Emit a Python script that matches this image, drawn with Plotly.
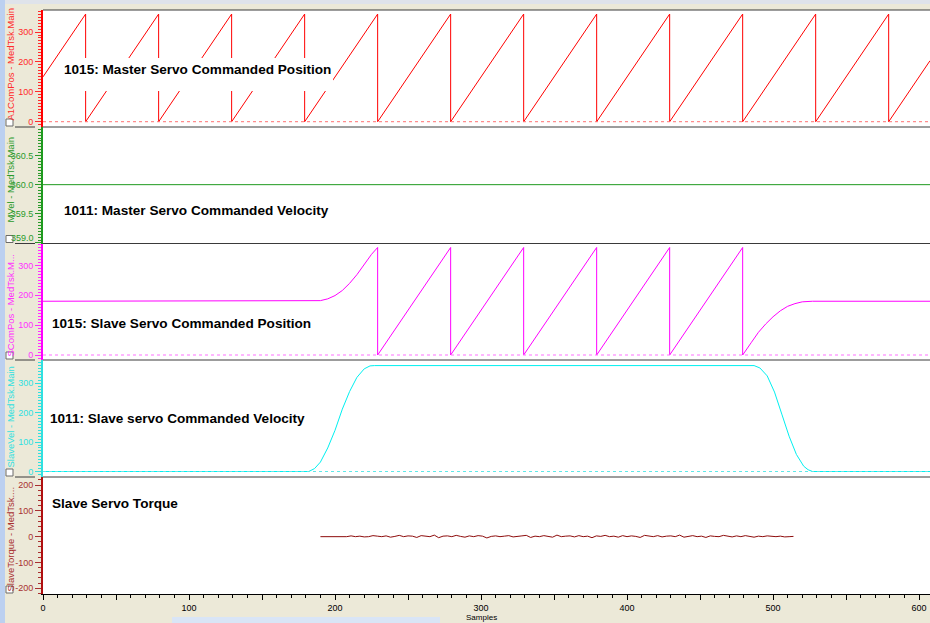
import plotly.graph_objects as go
from plotly.subplots import make_subplots

# ---------------- data ----------------
# Master servo commanded position (sawtooth vertices, samples / degrees)
master_pos_x = [0, 29.2, 29.2, 79.2, 79.2, 129.2, 129.2, 179.2, 179.2, 229.2, 229.2,
                279.2, 279.2, 329.2, 329.2, 379.2, 379.2, 429.2, 429.2, 479.2, 479.2,
                529.2, 529.2, 579.2, 579.2, 607.5]
master_pos_y = [150, 360, 0, 360, 0, 360, 0, 360, 0, 360, 0,
                360, 0, 360, 0, 360, 0, 360, 0, 360, 0,
                360, 0, 360, 0, 204]

# Master servo commanded velocity
master_vel_x = [0, 607.5]
master_vel_y = [360.0, 360.0]

# Slave servo commanded position
slave_pos_x = [0, 184, 190, 195, 200, 205, 210, 215, 220, 225, 229.2, 229.2,
               279.2, 279.2, 329.2, 329.2, 379.2, 379.2, 429.2, 429.2, 479.2, 479.2,
               485, 490, 495, 500, 505, 510, 515, 520, 527, 607.5]
slave_pos_y = [180, 180, 182, 188, 199, 216, 240, 269, 303, 337, 360, 0,
               360, 0, 360, 0, 360, 0, 360, 0, 360, 0,
               41, 76, 104, 128, 148, 163, 172, 178, 180, 180]

# Slave servo commanded velocity
slave_vel_x = [0, 182, 186, 190, 195, 200, 205, 210, 215, 220, 224, 227,
               487, 491, 496, 501, 506, 511, 516, 521, 524, 527, 607.5]
slave_vel_y = [0, 0, 10, 32, 80, 140, 212, 272, 320, 349, 359, 360,
               360, 352, 325, 270, 195, 120, 58, 18, 6, 0, 0]

# Slave servo torque (one reading every 3 samples from sample 190)
torque_start = 190
torque_step = 3
torque_y = [0, 0, 2, 0, 1, 0, 0, 3, 0, 2, -1, 0, 4, 2, 0, 3, -2, 1, 5, 0, 3, 2,
            -3, 4, 1, 0, 6, -4, 2, 3, 0, 5, 1, -2, 3, 0, 4, 2, -5, 1, 3, 0, 2, 4,
            -1, 0, 3, 5, -3, 2, 0, 4, 1, -2, 6, 0, 2, 3, -1, 4, 0, 2, -4, 3, 1, 5,
            0, 2, -2, 4, 0, 3, 1, -3, 5, 2, 0, 4, -1, 2, 3, 0, 6, -2, 1, 4, 0, 2,
            -3, 3, 1, 0, 5, 2, -1, 3, 0, 4, 1, -2, 2, 0, 3, 1, 0, 2, -1, 0, 1]
torque_x = [torque_start + torque_step * i for i in range(len(torque_y))]

panel_titles = ["1015: Master Servo Commanded Position",
                "1011: Master Servo Commanded Velocity",
                "1015: Slave Servo Commanded Position",
                "1011: Slave servo Commanded Velocity",
                "Slave Servo Torque"]
channel_names = ["A1ComPos - MedTsk.Main", "MVel - MedTsk.Main",
                 "SComPos - MedTsk.M...", "SlaveVel - MedTsk.Main",
                 "SlaveTorque - MedTsk...."]
y_ticks = [[0, 100, 200, 300], [359.0, 359.5, 360.0, 360.5], [0, 100, 200, 300],
           [0, 100, 200, 300], [-200, -100, 0, 100, 200]]
x_ticks = list(range(0, 601, 50))

# ---------------- geometry / styling ----------------
W, H = 930, 623
ML, MT, MB = 43, 10, 29
PW = W - ML
PH = H - MT - MB
edges = [10, 127, 243.5, 360, 477, 594]


def fx(px):
    return (px - ML) / PW


def fy(py):
    return (H - MB - py) / PH


FONT = "Liberation Sans"
TICK_FONT = "Liberation Sans"
TICK_SIZE = 9
line_cols = ["#ff0000", "#1f9a1f", "#ff00ff", "#00f0f0", "#8e0c0c"]
tick_cols = ["#ff2a2a", "#2a9a2a", "#ff30ff", "#30e0e0", "#a83030"]
axis_cols = ["#ff0000", "#1f9a1f", "#ff00ff", "#30e0e0", "#b01010"]
ranges = [[-17.7, 373.6], [358.99, 360.99], [-16.7, 373.3], [-18.7, 379.0], [-222, 231]]
minor = [10, 0.05, 10, 10, 20]
fmts = ["d", ".1f", "d", "d", "d"]

fig = make_subplots(rows=5, cols=1, shared_xaxes=True, vertical_spacing=0)

fig.add_trace(go.Scatter(x=master_pos_x, y=master_pos_y, mode="lines",
                         line=dict(color=line_cols[0], width=1)), row=1, col=1)
fig.add_trace(go.Scatter(x=master_vel_x, y=master_vel_y, mode="lines",
                         line=dict(color=line_cols[1], width=1)), row=2, col=1)
fig.add_trace(go.Scatter(x=slave_pos_x, y=slave_pos_y, mode="lines",
                         line=dict(color=line_cols[2], width=1)), row=3, col=1)
fig.add_trace(go.Scatter(x=slave_vel_x, y=slave_vel_y, mode="lines",
                         line=dict(color=line_cols[3], width=1)), row=4, col=1)

# zero reference lines
fig.add_hline(y=0, row=1, col=1, line=dict(color="#ff7070", width=1, dash="dot"))
fig.add_hline(y=0, row=3, col=1, line=dict(color="#ff70ff", width=1, dash="dot"))
fig.add_hline(y=0, row=4, col=1, line=dict(color="#60e8e8", width=1, dash="dot"))
fig.add_hline(y=0, row=5, col=1, line=dict(color="#c87878", width=1))

fig.add_trace(go.Scatter(x=torque_x, y=torque_y, mode="lines",
                         line=dict(color=line_cols[4], width=1)), row=5, col=1)

for i in range(5):
    n = "" if i == 0 else str(i + 1)
    top, bot = edges[i], edges[i + 1]
    # the lowest label of the velocity panel sits just inside the panel edge
    ticktext = [("" if (i == 1 and v == y_ticks[1][0]) else format(v, fmts[i]))
                for v in y_ticks[i]]
    fig.layout["yaxis" + n].update(
        domain=[fy(bot), fy(top)], range=ranges[i], tickvals=y_ticks[i], ticktext=ticktext,
        showgrid=False, zeroline=False,
        showline=True, linecolor=axis_cols[i], linewidth=2,
        ticks="outside", ticklen=6, tickcolor=tick_cols[i], tickwidth=1,
        tickfont=dict(family=TICK_FONT, size=TICK_SIZE, color=tick_cols[i]),
        minor=dict(dtick=minor[i], tick0=0, ticks="outside", ticklen=3,
                   tickcolor=tick_cols[i]),
        fixedrange=True)
    fig.layout["xaxis" + n].update(range=[0, 607.5], showgrid=False, zeroline=False,
                                   showticklabels=(i == 4), ticks="" if i < 4 else "outside")

fig.update_layout(
    xaxis5=dict(showline=True, linecolor="#000000", linewidth=1,
                tickvals=x_ticks,
                ticktext=[str(v) if v % 100 == 0 else "" for v in x_ticks],
                ticklen=5, tickcolor="#000000",
                tickfont=dict(family=TICK_FONT, size=TICK_SIZE, color="#000000"),
                minor=dict(dtick=10, tick0=0, ticks="outside", ticklen=3, tickcolor="#000000")),
)

shapes = []
# window edges
shapes.append(dict(type="rect", xref="paper", yref="paper", x0=fx(0), x1=fx(5),
                   y0=fy(H), y1=fy(0), fillcolor="#bcd0f0", line=dict(width=0), layer="below"))
shapes.append(dict(type="rect", xref="paper", yref="paper", x0=fx(5), x1=fx(W),
                   y0=fy(4), y1=fy(0), fillcolor="#dfe3ea", line=dict(width=0), layer="below"))
shapes.append(dict(type="rect", xref="paper", yref="paper", x0=fx(172), x1=fx(440),
                   y0=fy(H), y1=fy(617), fillcolor="#d9e5f6", line=dict(width=0), layer="below"))
# panel borders
for e in edges[:-1]:
    shapes.append(dict(type="line", xref="paper", yref="paper", x0=fx(ML), x1=fx(W),
                       y0=fy(e), y1=fy(e), line=dict(color="#3a3a3a", width=1), layer="above"))
for e in edges[1:-1]:
    shapes.append(dict(type="line", xref="paper", yref="paper", x0=fx(15), x1=fx(35),
                       y0=fy(e), y1=fy(e), line=dict(color="#3a3a3a", width=1), layer="above"))
# channel check boxes
for e in edges[1:]:
    shapes.append(dict(type="rect", xref="paper", yref="paper", x0=fx(6), x1=fx(13),
                       y0=fy(e - 1), y1=fy(e - 8), fillcolor="#ffffff",
                       line=dict(color="#6a6a6a", width=1), layer="above"))
# white box behind the first panel caption
shapes.append(dict(type="rect", xref="paper", yref="paper", x0=fx(60), x1=fx(333),
                   y0=fy(91), y1=fy(58), fillcolor="#ffffff", line=dict(width=0), layer="above"))

annotations = []
title_pos = [(62, 69), (62, 210), (50, 323), (48, 418), (50, 503)]
for t, (ax, ay) in zip(panel_titles, title_pos):
    annotations.append(dict(text="<b>" + t + "</b>", xref="paper", yref="paper",
                            x=fx(ax), y=fy(ay), xanchor="left", yanchor="middle",
                            showarrow=False, font=dict(family=FONT, size=13.6, color="#000000")))
name_pos = [65, 180, 306, 417, 539]
for i, (nm, cy) in enumerate(zip(channel_names, name_pos)):
    annotations.append(dict(text=nm, xref="paper", yref="paper", x=fx(9.5), y=fy(cy),
                            xanchor="center", yanchor="middle", textangle=-90,
                            showarrow=False, font=dict(family=FONT, size=9.5, color=tick_cols[i])))
# bottom label of the velocity panel, nudged up to stay inside its panel
annotations.append(dict(text=format(y_ticks[1][0], ".1f"), xref="paper", yref="paper",
                        x=fx(36), y=fy(238), xanchor="right", yanchor="middle",
                        showarrow=False,
                        font=dict(family=TICK_FONT, size=TICK_SIZE, color=tick_cols[1])))
# x-axis title
annotations.append(dict(text="Samples", xref="paper", yref="paper", x=fx(481), y=fy(623),
                        xanchor="center", yanchor="bottom", showarrow=False, borderpad=0,
                        font=dict(family=TICK_FONT, size=8, color="#000000")))

fig.update_layout(
    width=W, height=H, autosize=False,
    margin=dict(l=ML, r=0, t=MT, b=MB, pad=0),
    paper_bgcolor="#ece9d8", plot_bgcolor="#ffffff",
    showlegend=False, shapes=list(fig.layout.shapes) + shapes,
    annotations=annotations,
)

fig.write_html("out.html", config={"displayModeBar": False})
